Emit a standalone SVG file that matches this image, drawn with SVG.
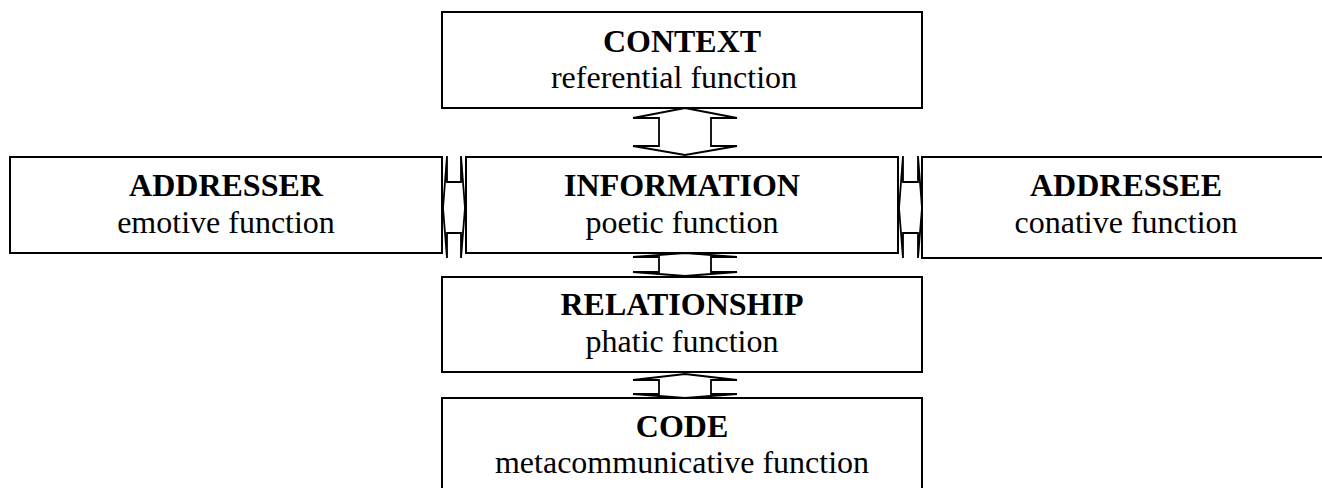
<svg xmlns="http://www.w3.org/2000/svg" width="1322" height="488" viewBox="0 0 1322 488">
<style>
.box{fill:#fff;stroke:#000;stroke-width:2}
.arr{fill:#fff;stroke:#000;stroke-width:1.8;stroke-linejoin:miter}
.t{font-family:"Liberation Serif","Times New Roman",serif;font-size:32px;fill:#000;text-anchor:middle}
.b{font-weight:bold}
</style>
<rect width="1322" height="488" fill="#fff"/>
<g id="connectors">
<path class="arr" d="M685,108 L737,118 L711,118 L711,146 L737,146 L685,155 L633,146 L659,146 L659,118 L633,118 Z"/>
<path class="arr" d="M685,253 L737,257 L711,257 L711,272 L737,272 L685,276 L633,272 L659,272 L659,257 L633,257 Z"/>
<path class="arr" d="M685,374 L737,380 L711,380 L711,394 L737,394 L685,398 L633,394 L659,394 L659,380 L633,380 Z"/>
<path class="arr" d="M443,208 L447,156 L447,182 L461,182 L461,156 L465,208 L461,258 L461,233 L447,233 L447,258 Z"/>
<path class="arr" d="M899,208 L903,156 L903,182 L918,182 L918,156 L922,208 L918,258 L918,233 L903,233 L903,258 Z"/>
</g>
<g id="context">
<rect class="box" x="442" y="12" width="480" height="96"/>
<text class="t b" x="682" y="52">CONTEXT</text>
<text class="t" x="674" y="88">referential function</text>
</g>
<g id="addresser">
<rect class="box" x="10" y="157" width="432" height="96"/>
<text class="t b" x="226" y="196">ADDRESSER</text>
<text class="t" x="226" y="233">emotive function</text>
</g>
<g id="information">
<rect class="box" x="466" y="157" width="432" height="96"/>
<text class="t b" x="682" y="196">INFORMATION</text>
<text class="t" x="682" y="233">poetic function</text>
</g>
<g id="addressee">
<rect class="box" x="922" y="157" width="410" height="101"/>
<text class="t b" x="1126" y="196">ADDRESSEE</text>
<text class="t" x="1126" y="233">conative function</text>
</g>
<g id="relationship">
<rect class="box" x="442" y="277" width="480" height="95"/>
<text class="t b" x="682" y="315">RELATIONSHIP</text>
<text class="t" x="682" y="352">phatic function</text>
</g>
<g id="code">
<rect class="box" x="442" y="398" width="480" height="100"/>
<text class="t b" x="682" y="437">CODE</text>
<text class="t" x="682" y="473">metacommunicative function</text>
</g>
</svg>
